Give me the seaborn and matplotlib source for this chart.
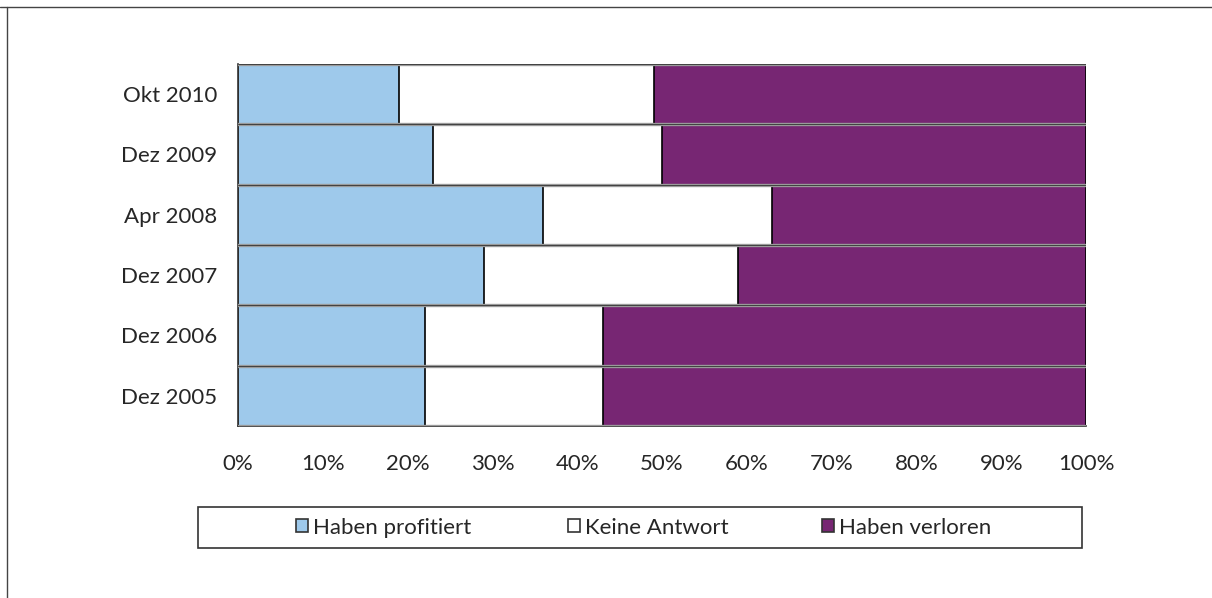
import matplotlib
matplotlib.use('Agg')
import matplotlib.pyplot as plt
import numpy as np
import pandas as pd
import seaborn as sns
from matplotlib.lines import Line2D
from matplotlib.patches import Rectangle, Patch

# data (percent)
zeitpunkte = ['Okt 2010', 'Dez 2009', 'Apr 2008', 'Dez 2007', 'Dez 2006', 'Dez 2005']
profitiert = [19, 23, 36, 29, 22, 22]
keine_antwort = [30, 27, 27, 30, 21, 21]
verloren = [51, 50, 37, 41, 57, 57]
serien = ['Haben profitiert', 'Keine Antwort', 'Haben verloren']
farben = ['#9ec9eb', '#ffffff', '#772673']

df = pd.DataFrame({'Zeit': zeitpunkte, 'p': profitiert, 'k': keine_antwort, 'v': verloren})
df['cum_p'] = df['p']
df['cum_k'] = df['p'] + df['k']
df['cum_v'] = df['p'] + df['k'] + df['v']

sns.set_style('white')
plt.rcParams['font.family'] = ['Lato', 'DejaVu Sans']

fig = plt.figure(figsize=(12.12, 5.98), dpi=100)
ax = fig.add_axes([238 / 1212, 1 - 426 / 598, 848 / 1212, 362 / 598])

# stacked bars: draw cumulative totals, largest first
for col, farbe in zip(['cum_v', 'cum_k', 'cum_p'], farben[::-1]):
    sns.barplot(data=df, x=col, y='Zeit', order=zeitpunkte, color=farbe,
                width=1.0, edgecolor='black', linewidth=1.2, saturation=1, ax=ax)

# gray separators between the rows
for yb in np.arange(-0.5, len(zeitpunkte), 1.0):
    ax.axhline(yb, color='#9a9a9a', lw=2.4, zorder=3)
    ax.axhline(yb, color='#333333', lw=0.6, zorder=3)

ax.set_xlim(0, 100)
ax.set_ylim(len(zeitpunkte) - 0.5, -0.5)
ax.set_xticks(np.arange(0, 101, 10))
ax.set_xticklabels([f'{v}%' for v in range(0, 101, 10)], fontsize=16)
ax.set_yticks(range(len(zeitpunkte)))
ax.set_yticklabels(zeitpunkte, fontsize=16)
ax.set_yticks(np.arange(-0.5, len(zeitpunkte), 1.0), minor=True)
ax.tick_params(axis='y', which='major', length=0, pad=15)
ax.tick_params(axis='y', which='minor', length=5, width=1, color='#333333', direction='out')
ax.tick_params(axis='x', which='major', length=5, width=1, color='#333333', direction='out', pad=15)
ax.set_xlabel('')
ax.set_ylabel('')
for s in ['top', 'right']:
    ax.spines[s].set_visible(False)
for s in ['left', 'bottom']:
    ax.spines[s].set_color('#333333')
    ax.spines[s].set_linewidth(1.2)

# legend box
fig.add_artist(Rectangle((198 / 1212, 1 - 548 / 598), 884 / 1212, 41 / 598,
                         transform=fig.transFigure,
                         facecolor='white', edgecolor='#333333', lw=1.2))
# one legend per entry so the spacing follows the reference
for x_links, name, farbe in zip([296, 568, 822], serien, farben):
    fig.legend([Patch(facecolor=farbe, edgecolor='#333333', lw=1.2)], [name],
               loc='center left', bbox_to_anchor=(x_links / 1212, 1 - 527.5 / 598),
               frameon=False, fontsize=16, handlelength=0.55, handleheight=0.55,
               handletextpad=0.2, borderpad=0, borderaxespad=0)

# outer frame
fig.add_artist(Line2D([0, 1], [1 - 7 / 598] * 2, transform=fig.transFigure, color='#444444', lw=1))
fig.add_artist(Line2D([7 / 1212] * 2, [0, 1 - 7 / 598], transform=fig.transFigure, color='#444444', lw=1))

plt.savefig('out.png', dpi=100)
